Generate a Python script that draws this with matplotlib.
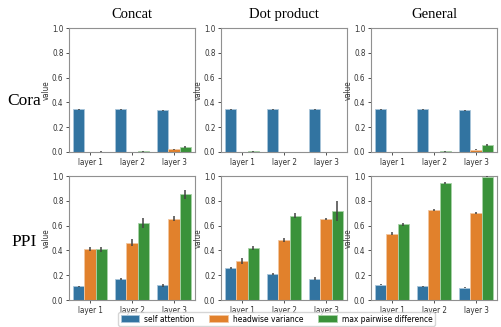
import matplotlib
matplotlib.use('Agg')
import matplotlib.pyplot as plt
import numpy as np

# Dados
layers = ['layer 1', 'layer 2', 'layer 3']
metrics = ['self attention', 'headwise variance', 'max pairwise difference']
methods = ['Concat', 'Dot product', 'General']
datasets = ['Cora', 'PPI']

# Cora
cora_concat = [[0.345, 0.345, 0.337], [0.002, 0.002, 0.022], [0.003, 0.006, 0.040]]
cora_concat_err = [[0.003, 0.004, 0.004], [0.001, 0.001, 0.006], [0.002, 0.003, 0.008]]
cora_dot = [[0.345, 0.345, 0.345], [0.002, 0.0, 0.0], [0.006, 0.0, 0.0]]
cora_dot_err = [[0.004, 0.004, 0.004], [0.002, 0.0, 0.001], [0.004, 0.0, 0.001]]
cora_general = [[0.345, 0.345, 0.337], [0.0, 0.0, 0.018], [0.0, 0.006, 0.057]]
cora_general_err = [[0.004, 0.004, 0.004], [0.0, 0.0, 0.005], [0.0, 0.002, 0.008]]

# PPI
ppi_concat = [[0.110, 0.172, 0.120], [0.412, 0.463, 0.657], [0.410, 0.620, 0.851]]
ppi_concat_err = [[0.004, 0.008, 0.012], [0.015, 0.030, 0.022], [0.020, 0.040, 0.035]]
ppi_dot = [[0.258, 0.208, 0.170], [0.315, 0.483, 0.650], [0.420, 0.680, 0.715]]
ppi_dot_err = [[0.005, 0.008, 0.012], [0.022, 0.015, 0.008], [0.018, 0.022, 0.080]]
ppi_general = [[0.125, 0.110, 0.100], [0.535, 0.727, 0.700], [0.612, 0.940, 0.995]]
ppi_general_err = [[0.006, 0.005, 0.004], [0.010, 0.006, 0.006], [0.012, 0.008, 0.006]]

values = [[cora_concat, cora_dot, cora_general], [ppi_concat, ppi_dot, ppi_general]]
errors = [[cora_concat_err, cora_dot_err, cora_general_err],
          [ppi_concat_err, ppi_dot_err, ppi_general_err]]

colors = ['#3274a1', '#e1812c', '#3a923a']
edges = ['#a9c6da', '#f2c7a0', '#a8d3a8']

plt.rcParams['font.stretch'] = 'condensed'

W, H = 501, 327
fig = plt.figure(figsize=(W / 100, H / 100), dpi=100)

col_left = [69, 221, 371]
row_top = [28, 176]
aw, ah = 126, 124

width = 0.8 / 3
x = np.arange(3)

for r in range(2):
    for c in range(3):
        ax = fig.add_axes([col_left[c] / W, 1 - (row_top[r] + ah) / H, aw / W, ah / H])
        for k in range(3):
            ax.bar(x - 0.4 + width * (k + 0.5), values[r][c][k], width,
                   color=colors[k], edgecolor=edges[k], linewidth=0.6,
                   label=metrics[k], zorder=2)
            ax.errorbar(x - 0.4 + width * (k + 0.5), values[r][c][k], yerr=errors[r][c][k],
                        fmt='none', ecolor='#424242', elinewidth=1.1, zorder=3)
        ax.set_xlim(-0.5, 2.5)
        ax.set_ylim(0, 1.0)
        ax.set_xticks(x)
        ax.set_xticklabels(layers)
        ax.set_yticks([0, 0.2, 0.4, 0.6, 0.8, 1.0])
        ax.tick_params(labelsize=5.8, length=2.5, width=0.6, pad=1.5,
                       colors='#333333')
        ax.set_ylabel('value', fontsize=5.8, labelpad=1.0, color='#333333')
        for s in ax.spines.values():
            s.set_color('#909090')
            s.set_linewidth(0.8)
        if r == 0:
            ax.set_title(methods[c], fontsize=10.5, family='Liberation Serif', pad=7)
        if c == 0 and r == 1:
            handles, labs = ax.get_legend_handles_labels()

# Nome das linhas
fig.text(24 / W, 1 - 101 / H, 'Cora', fontsize=12.5, family='Liberation Serif',
         ha='center', va='center')
fig.text(24 / W, 1 - 242 / H, 'PPI', fontsize=12.5, family='Liberation Serif',
         ha='center', va='center')

fig.legend(handles, labs, loc='upper center', bbox_to_anchor=(276.5 / W, 1 - 312 / H),
           ncol=3, fontsize=6, frameon=True, handlelength=2.2, handleheight=0.8,
           columnspacing=1.8, borderpad=0.3, handletextpad=0.6, borderaxespad=0)

fig.savefig('out.png', dpi=100)
